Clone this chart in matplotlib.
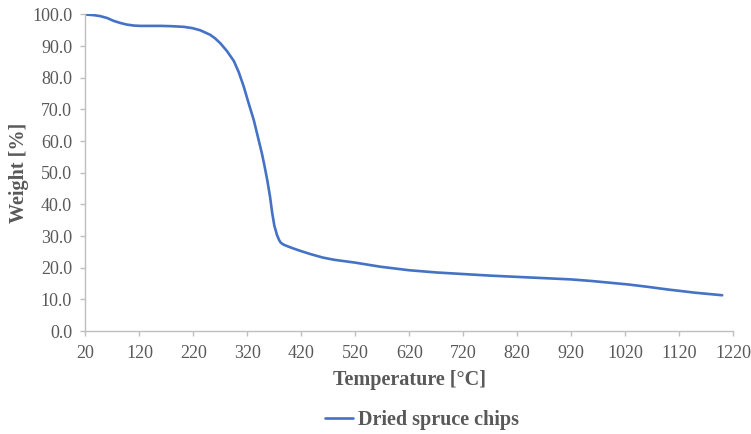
import matplotlib
matplotlib.use("Agg")
import matplotlib.pyplot as plt

plt.rcParams['font.family'] = ['Liberation Serif', 'DejaVu Serif']

# TGA curve
temperature = [20, 35, 47, 60, 72, 85, 97, 110, 121, 140, 160, 180, 202, 218, 233,
               251, 260, 270, 282, 295, 304, 313, 322, 332, 340, 347, 352, 357,
               362, 366, 370, 375, 379, 382, 387, 394, 405, 415, 437, 460, 481, 520,
               567, 620, 670, 720, 770, 820, 883, 920, 958, 1026, 1060, 1100, 1150,
               1200]
weight = [100.0, 99.8, 99.5, 98.9, 98.0, 97.3, 96.8, 96.5, 96.4, 96.4, 96.4, 96.3,
          96.1, 95.7, 95.0, 93.6, 92.5, 90.9, 88.5, 85.3, 81.8, 77.4, 72.2,
          66.6, 61.0, 56.1, 52.0, 47.6, 42.5, 37.4, 33.3, 30.3, 28.7, 27.9, 27.3,
          26.8, 26.1, 25.5, 24.3, 23.2, 22.5, 21.6, 20.3, 19.2, 18.5, 18.0, 17.5,
          17.1, 16.6, 16.3, 15.8, 14.7, 14.0, 13.1, 12.1, 11.3]
x_ticks = list(range(20, 1221, 100))
y_ticks = list(range(0, 101, 10))

grey = '#595959'
axis_col = '#BFBFBF'

fig = plt.figure(figsize=(7.51, 4.34), dpi=100)
ax = fig.add_axes([0.1138, 0.2373, 0.8622, 0.7293])

ax.plot(temperature, weight, color='#4472C4', linewidth=1.9,
        label='Dried spruce chips', solid_capstyle='round', solid_joinstyle='round')

ax.set_xlim(20, 1220)
ax.set_ylim(0, 100)
ax.set_xticks(x_ticks)
ax.set_yticks(y_ticks)
ax.set_yticklabels(['%.1f' % v for v in y_ticks])

for s in ['top', 'right']:
    ax.spines[s].set_visible(False)
for s in ['left', 'bottom']:
    ax.spines[s].set_color(axis_col)
    ax.spines[s].set_linewidth(1.0)

ax.tick_params(axis='both', colors=axis_col, length=3.6, width=1.0,
               labelcolor=grey, labelsize=13)
ax.tick_params(axis='x', pad=6.5)
ax.tick_params(axis='y', pad=6)

ax.set_xlabel('Temperature [°C]', fontsize=14.5, fontweight='bold', color=grey, labelpad=6)
ax.set_ylabel('Weight [%]', fontsize=14.5, fontweight='bold', color=grey, labelpad=2)

leg = fig.legend(loc='center', bbox_to_anchor=(0.562, 0.032), frameon=False,
                 handlelength=1.4, handletextpad=0.25, fontsize=14.5)
for t in leg.get_texts():
    t.set_color(grey)
    t.set_fontweight('bold')

fig.savefig('out.png', dpi=100)
